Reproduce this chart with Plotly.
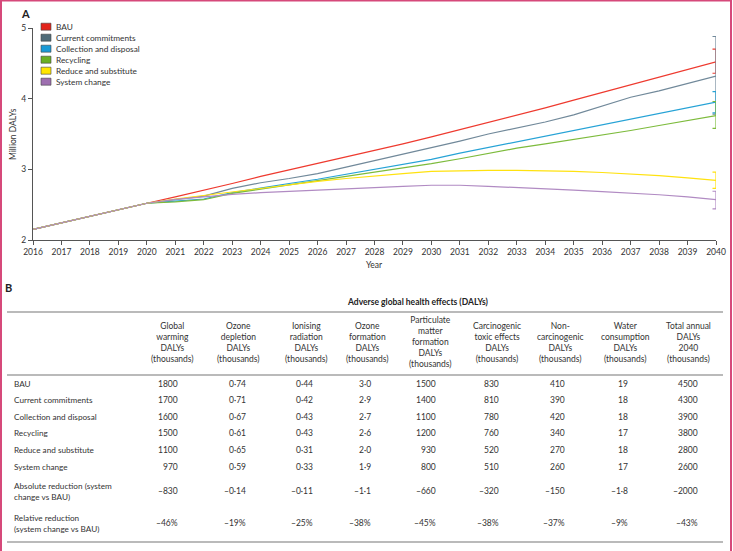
import plotly.graph_objects as go

# ---------------- data ----------------
years = list(range(2016, 2041))
history = [2.15, 2.245, 2.34, 2.43]  # 2016-2019 shared

scenarios = ["BAU", "Current commitments", "Collection and disposal",
             "Recycling", "Reduce and substitute", "System change"]

bau = history + [2.52, 2.61, 2.70, 2.80, 2.90, 2.99, 3.08, 3.17, 3.27, 3.36, 3.46,
                 3.56, 3.67, 3.77, 3.87, 3.98, 4.09, 4.20, 4.31, 4.42, 4.52]
current = history + [2.52, 2.57, 2.62, 2.73, 2.81, 2.87, 2.94, 3.03, 3.12, 3.21, 3.30,
                     3.40, 3.50, 3.58, 3.67, 3.77, 3.89, 4.02, 4.11, 4.21, 4.32]
collection = history + [2.52, 2.55, 2.58, 2.67, 2.74, 2.80, 2.86, 2.93, 3.00, 3.07, 3.14,
                        3.23, 3.31, 3.39, 3.47, 3.55, 3.63, 3.71, 3.79, 3.87, 3.95]
recycling = history + [2.52, 2.54, 2.57, 2.66, 2.72, 2.78, 2.83, 2.89, 2.95, 3.02, 3.08,
                       3.15, 3.23, 3.30, 3.36, 3.42, 3.49, 3.55, 3.62, 3.69, 3.76]
reduce = history + [2.52, 2.58, 2.63, 2.69, 2.74, 2.79, 2.83, 2.87, 2.91, 2.94, 2.97,
                    2.98, 2.985, 2.985, 2.98, 2.97, 2.955, 2.935, 2.91, 2.88, 2.845]
system = history + [2.52, 2.575, 2.615, 2.645, 2.67, 2.69, 2.71, 2.725, 2.74, 2.76, 2.775,
                    2.775, 2.76, 2.745, 2.725, 2.705, 2.685, 2.665, 2.64, 2.61, 2.57]
series = [bau, current, collection, recycling, reduce, system]

# 2040 uncertainty range (upper, lower), million DALYs
err_hi = [4.70, 4.88, 4.10, 3.96, 2.96, 2.69]
err_lo = [4.36, 3.78, 3.80, 3.58, 2.73, 2.44]

y_ticks = [2, 3, 4, 5]

# table
row_labels = ["BAU", "Current commitments", "Collection and disposal", "Recycling",
              "Reduce and substitute", "System change",
              "Absolute reduction (system<br>change vs BAU)",
              "Relative reduction<br>(system change vs BAU)"]
col_headers = ["Global<br>warming<br>DALYs<br>(thousands)",
               "Ozone<br>depletion<br>DALYs<br>(thousands)",
               "Ionising<br>radiation<br>DALYs<br>(thousands)",
               "Ozone<br>formation<br>DALYs<br>(thousands)",
               "Particulate<br>matter<br>formation<br>DALYs<br>(thousands)",
               "Carcinogenic<br>toxic effects<br>DALYs<br>(thousands)",
               "Non-<br>carcinogenic<br>DALYs<br>(thousands)",
               "Water<br>consumption<br>DALYs<br>(thousands)",
               "Total annual<br>DALYs<br>2040<br>(thousands)"]
global_warming = ["1800", "1700", "1600", "1500", "1100", "970", "–830", "–46%"]
ozone_depletion = ["0·74", "0·71", "0·67", "0·61", "0·65", "0·59", "–0·14", "–19%"]
ionising = ["0·44", "0·42", "0·43", "0·43", "0·31", "0·33", "–0·11", "–25%"]
ozone_formation = ["3·0", "2·9", "2·7", "2·6", "2·0", "1·9", "–1·1", "–38%"]
particulate = ["1500", "1400", "1100", "1200", "930", "800", "–660", "–45%"]
carcinogenic = ["830", "810", "780", "760", "520", "510", "–320", "–38%"]
non_carcinogenic = ["410", "390", "420", "340", "270", "260", "–150", "–37%"]
water = ["19", "18", "18", "17", "18", "17", "–1·8", "–9%"]
total = ["4500", "4300", "3900", "3800", "2800", "2600", "–2000", "–43%"]
table_cols = [global_warming, ozone_depletion, ionising, ozone_formation, particulate,
              carcinogenic, non_carcinogenic, water, total]

# ---------------- styling ----------------
W, H = 733, 551
FONT = "Lato"
TXT = "#333333"
line_colors = ["#ee3a2f", "#71899a", "#27a3d6", "#7dbb3c", "#ffe20f", "#b18bc3"]
box_colors = ["#e2231a", "#4f6b78", "#1a9ad6", "#6ab023", "#ffe600", "#9e6fb0"]


def px(x):
    return x / W


def py(y):
    return 1 - y / H


fig = go.Figure()

for name, vals, col in zip(scenarios, series, line_colors):
    fig.add_trace(go.Scatter(x=years, y=vals, mode="lines", name=name,
                             line=dict(color=col, width=1.2),
                             showlegend=False, hoverinfo="skip"))

for name, vals, col, hi, lo in zip(scenarios, series, line_colors, err_hi, err_lo):
    v = vals[-1]
    fig.add_trace(go.Scatter(x=[years[-1]], y=[v], mode="markers", cliponaxis=False,
                             marker=dict(color="rgba(0,0,0,0)", size=1),
                             error_y=dict(type="data", symmetric=False,
                                          array=[hi - v], arrayminus=[v - lo],
                                          color=col, thickness=1.2, width=3.5),
                             showlegend=False, hoverinfo="skip"))

axis_common = dict(showline=True, linecolor="#555555", linewidth=1, ticks="outside",
                   ticklen=4, tickcolor="#555555", tickwidth=1, showgrid=False,
                   zeroline=False, automargin=False,
                   tickfont=dict(family=FONT, size=8.5, color=TXT))

fig.update_layout(
    width=W, height=H, margin=dict(l=0, r=0, t=0, b=0, autoexpand=False),
    paper_bgcolor="white", plot_bgcolor="white",
    font=dict(family=FONT, color=TXT),
    xaxis=dict(domain=[px(33), px(716)], range=[2016, 2040], dtick=1, tick0=2016,
               **axis_common),
    yaxis=dict(domain=[py(240), py(28)], range=[2, 5], tickvals=y_ticks,
               **axis_common),
)

ann = []
shapes = []


def note(x, y, text, size=8.5, xanchor="left", align="left", color=TXT, **kw):
    ann.append(dict(x=px(x), y=py(y), xref="paper", yref="paper", text=text,
                    showarrow=False, xanchor=xanchor, yanchor="middle", align=align,
                    font=dict(family=FONT, size=size, color=color), **kw))


# panel labels
note(19, 13, "<b>A</b>", size=11, color="#222")
note(3, 287, "<b>B</b>", size=11, color="#222")

# axis titles
note(13, 134, "Million DALYs", xanchor="center", textangle=-90)
note(374.5, 265, "Year", xanchor="center")

# legend
for i, (name, col) in enumerate(zip(scenarios, box_colors)):
    yc = 26.7 + 11 * i
    shapes.append(dict(type="rect", xref="paper", yref="paper",
                       x0=px(41), x1=px(51), y0=py(yc + 3.5), y1=py(yc - 3.5),
                       fillcolor=col, line=dict(color="#444444", width=0.6)))
    note(54, yc, name, size=8.3)

# table
note(418, 302, "<b>Adverse global health effects (DALYs)</b>", xanchor="center",
     color="#222")
for yl in [312, 375, 542]:
    shapes.append(dict(type="line", xref="paper", yref="paper", x0=px(7), x1=px(723),
                       y0=py(yl), y1=py(yl), line=dict(color="#777777", width=1.2)))

col_centers = [172, 238, 306, 367, 430, 497, 560, 625, 688]
col_right = [180, 248, 315, 373, 438, 501, 567, 630, 700]
row_y = [383.5, 400, 416.7, 433.3, 450, 467, 491, 523]

for cx, hdr in zip(col_centers, col_headers):
    note(cx, 342, hdr, xanchor="center", align="center")

for ry, lab in zip(row_y, row_labels):
    note(12, ry, lab, size=8.2)

for rx, colvals in zip(col_right, table_cols):
    for ry, v in zip(row_y, colvals):
        note(rx, ry, v, xanchor="right", align="right")

# frame
frame = "#d6497a"
shapes.append(dict(type="line", xref="paper", yref="paper", x0=px(1), x1=px(1),
                   y0=0, y1=1, line=dict(color=frame, width=2)))
shapes.append(dict(type="line", xref="paper", yref="paper", x0=px(731), x1=px(731),
                   y0=0, y1=1, line=dict(color=frame, width=2)))
shapes.append(dict(type="line", xref="paper", yref="paper", x0=0, x1=px(732),
                   y0=py(0.7), y1=py(0.7), line=dict(color=frame, width=1.5)))

fig.update_layout(annotations=ann, shapes=shapes)
fig.write_html("out.html")
